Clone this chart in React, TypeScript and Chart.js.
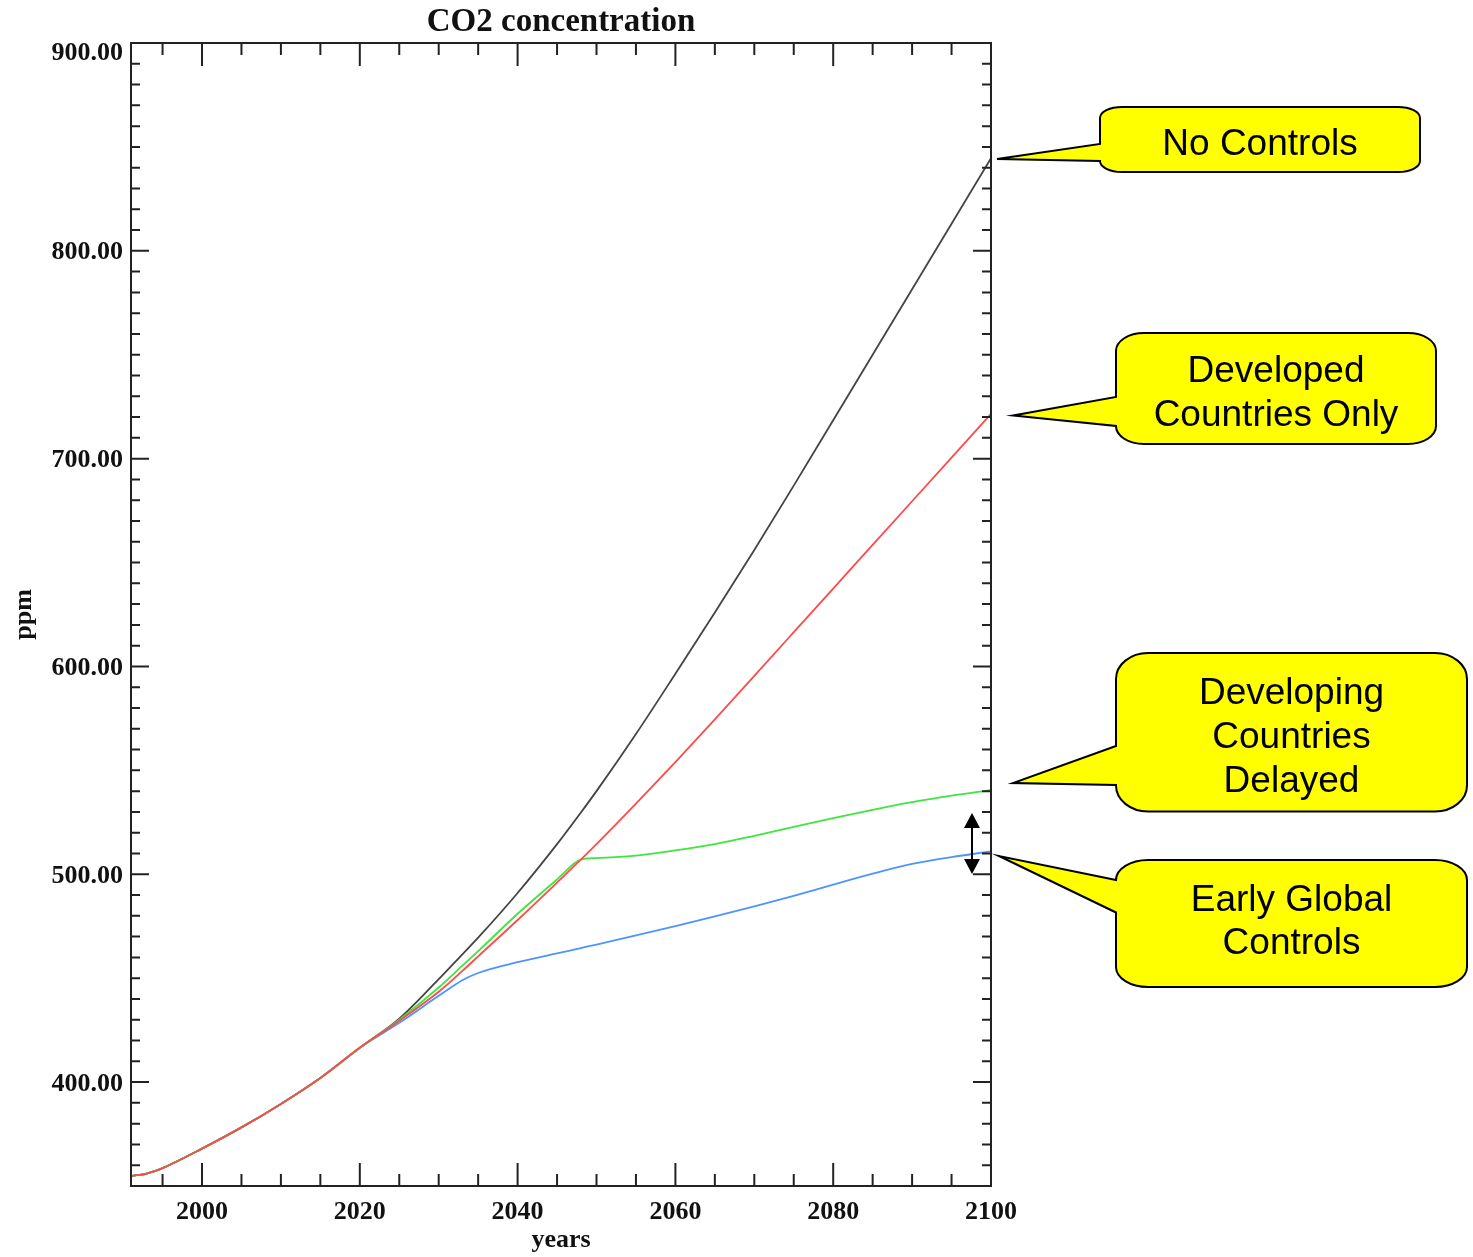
import React, { useEffect, useRef } from "react";
import { Chart, registerables } from "chart.js";

Chart.register(...registerables);

// ---- Data ----
const YEARS = [
  1991, 1992, 1993, 1994, 1995, 2000, 2005, 2010, 2015, 2020,
  2025, 2030, 2033, 2035, 2040, 2045, 2048, 2050, 2055, 2060,
  2065, 2070, 2075, 2080, 2085, 2090, 2095, 2100,
];
// shared history 1991-2020
const HISTORY = [354.8, 355.3, 356.0, 357.2, 358.6, 368.0, 378.2, 389.5, 402.0, 416.5];
// 2025 .. 2100
const NO_CONTROLS = [430.5, 449.5, 461.5, 469.5, 491, 514.5, 529.6, 540, 567.5, 596.5, 626, 656, 687, 718.5, 750, 781.5, 813, 844.5];
const DEVELOPED_ONLY = [429.5, 443.5, 453.5, 460.5, 478, 496, 507, 514.5, 534, 554, 574.5, 595.5, 616.5, 637.5, 658.5, 679.5, 700.5, 721.5];
const DEVELOPING_DELAYED = [430, 445.5, 456, 463, 481, 497.5, 507, 507.8, 509, 511.5, 514.5, 518.5, 522.8, 527, 531, 534.7, 537.8, 540.5];
const EARLY_GLOBAL = [428.5, 441.5, 449, 452.5, 457.7, 461.9, 464.5, 466.2, 470.6, 475.1, 479.7, 484.5, 489.6, 495, 500.3, 505, 508.3, 511];

const X_MIN = 1991;
const X_MAX = 2100;
const Y_MIN = 350;
const Y_MAX = 900;
const X_TICK_LABELS = [2000, 2020, 2040, 2060, 2080, 2100];
const Y_TICK_LABELS = [400, 500, 600, 700, 800, 900];

const TITLE = "CO2 concentration";
const X_TITLE = "years";
const Y_TITLE = "ppm";

const CALLOUTS = [
  { lines: ["No Controls"], L: 1100, T: 107, R: 1420, B: 172, rx: 22, ry: 11, tip: [997, 159], pt: 144, pb: 161, cx: 1260, base: [155] },
  { lines: ["Developed", "Countries Only"], L: 1116, T: 333, R: 1436, B: 444, rx: 28, ry: 18, tip: [1013, 415.5], pt: 397, pb: 426, cx: 1276, base: [382, 426] },
  { lines: ["Developing", "Countries", "Delayed"], L: 1116, T: 653, R: 1467, B: 811.5, rx: 32, ry: 26, tip: [1013, 783], pt: 746, pb: 785, cx: 1291.5, base: [703.5, 747.5, 792] },
  { lines: ["Early Global", "Controls"], L: 1116, T: 860, R: 1467, B: 987, rx: 32, ry: 20, tip: [999, 856], pt: 880, pb: 912.5, cx: 1291.5, base: [910.5, 954] },
];

function series(tail: number[]) {
  return YEARS.map((x, i) => ({ x, y: i < HISTORY.length ? HISTORY[i] : tail[i - HISTORY.length] }));
}

function drawCallout(ctx: CanvasRenderingContext2D, c: any) {
  const { L, T, R, B, rx, ry, tip, pt, pb } = c;
  const k = 0.5523;
  ctx.beginPath();
  ctx.moveTo(L + rx, T);
  ctx.lineTo(R - rx, T);
  ctx.bezierCurveTo(R - rx + k * rx, T, R, T + ry - k * ry, R, T + ry);
  ctx.lineTo(R, B - ry);
  ctx.bezierCurveTo(R, B - ry + k * ry, R - rx + k * rx, B, R - rx, B);
  ctx.lineTo(L + rx, B);
  ctx.bezierCurveTo(L + rx - k * rx, B, L, B - ry + k * ry, L, B - ry);
  ctx.lineTo(L, pb);
  ctx.lineTo(tip[0], tip[1]);
  ctx.lineTo(L, pt);
  ctx.lineTo(L, T + ry);
  ctx.bezierCurveTo(L, T + ry - k * ry, L + rx - k * rx, T, L + rx, T);
  ctx.closePath();
  ctx.fillStyle = "#ffff00";
  ctx.fill();
  ctx.strokeStyle = "#000";
  ctx.lineWidth = 2;
  ctx.lineJoin = "miter";
  ctx.stroke();
  ctx.fillStyle = "#000";
  ctx.font = '37px "Liberation Sans", Arial, sans-serif';
  ctx.textAlign = "center";
  ctx.textBaseline = "alphabetic";
  c.lines.forEach((t: string, i: number) => ctx.fillText(t, c.cx, c.base[i]));
}

const decor = {
  id: "decor",
  afterDraw(chart: any) {
    const ctx: CanvasRenderingContext2D = chart.ctx;
    const xs = chart.scales.x;
    const ys = chart.scales.y;
    const { left, right, top, bottom } = chart.chartArea;
    ctx.save();

    // frame
    ctx.strokeStyle = "#222";
    ctx.lineWidth = 2;
    ctx.strokeRect(left, top, right - left, bottom - top);

    // inward ticks
    ctx.beginPath();
    for (let yr = 1995; yr < X_MAX; yr += 5) {
      const px = xs.getPixelForValue(yr);
      const len = yr % 20 === 0 ? 23 : 12;
      ctx.moveTo(px, bottom);
      ctx.lineTo(px, bottom - len);
      ctx.moveTo(px, top);
      ctx.lineTo(px, top + len);
    }
    for (let v = 360; v < Y_MAX; v += 10) {
      const py = ys.getPixelForValue(v);
      const len = v % 100 === 0 ? 18 : 9;
      ctx.moveTo(left, py);
      ctx.lineTo(left + len, py);
      ctx.moveTo(right, py);
      ctx.lineTo(right - len, py);
    }
    ctx.stroke();

    // tick labels
    ctx.fillStyle = "#111";
    ctx.font = 'bold 26px "Liberation Serif", "Times New Roman", serif';
    ctx.textAlign = "center";
    ctx.textBaseline = "alphabetic";
    X_TICK_LABELS.forEach((yr) => {
      ctx.fillText(String(yr), xs.getPixelForValue(yr), 1219);
    });
    ctx.textAlign = "right";
    Y_TICK_LABELS.forEach((v) => {
      let py = ys.getPixelForValue(v);
      if (v === Y_MAX) py += 8;
      ctx.fillText(v.toFixed(2), left - 8, py + 8.5);
    });

    // axis titles
    ctx.textAlign = "center";
    ctx.fillText(X_TITLE, (left + right) / 2, 1247);
    ctx.save();
    ctx.translate(24, (top + bottom) / 2);
    ctx.rotate(-Math.PI / 2);
    ctx.textBaseline = "middle";
    ctx.fillText(Y_TITLE, 0, 0);
    ctx.restore();

    // chart title
    ctx.font = 'bold 33px "Liberation Serif", "Times New Roman", serif';
    ctx.fillText(TITLE, (left + right) / 2, 31);

    // double-headed arrow
    const ax = 972;
    const ay1 = 813;
    const ay2 = 874;
    ctx.strokeStyle = "#000";
    ctx.fillStyle = "#000";
    ctx.lineWidth = 2;
    ctx.beginPath();
    ctx.moveTo(ax, ay1 + 10);
    ctx.lineTo(ax, ay2 - 10);
    ctx.stroke();
    ctx.beginPath();
    ctx.moveTo(ax, ay1);
    ctx.lineTo(ax - 8, ay1 + 15);
    ctx.lineTo(ax + 8, ay1 + 15);
    ctx.closePath();
    ctx.fill();
    ctx.beginPath();
    ctx.moveTo(ax, ay2);
    ctx.lineTo(ax - 8, ay2 - 15);
    ctx.lineTo(ax + 8, ay2 - 15);
    ctx.closePath();
    ctx.fill();

    // callouts
    CALLOUTS.forEach((c) => drawCallout(ctx, c));

    ctx.restore();
  },
};

export default function App() {
  const ref = useRef<HTMLCanvasElement>(null);
  useEffect(() => {
    document.body.style.margin = "0";
    const chart = new Chart(ref.current as HTMLCanvasElement, {
      type: "line",
      data: {
        datasets: [
          { label: "Developed Countries Only", data: series(DEVELOPED_ONLY), borderColor: "#ff4a4a" },
          { label: "Developing Countries Delayed", data: series(DEVELOPING_DELAYED), borderColor: "#3ee63e" },
          { label: "Early Global Controls", data: series(EARLY_GLOBAL), borderColor: "#4d94ff" },
          { label: "No Controls", data: series(NO_CONTROLS), borderColor: "#444444" },
        ],
      },
      options: {
        responsive: false,
        animation: false,
        devicePixelRatio: 1,
        layout: { padding: { left: 131, top: 43, right: 482, bottom: 71 } },
        scales: {
          x: { type: "linear", min: X_MIN, max: X_MAX, display: false },
          y: { type: "linear", min: Y_MIN, max: Y_MAX, display: false },
        },
        elements: {
          point: { radius: 0 },
          line: { borderWidth: 1.8, cubicInterpolationMode: "monotone", fill: false },
        },
        plugins: {
          legend: { display: false },
          tooltip: { enabled: false },
          title: { display: false },
        },
      },
      plugins: [decor],
    } as any);
    return () => chart.destroy();
  }, []);
  return <canvas ref={ref} width={1473} height={1257} style={{ display: "block" }} />;
}
